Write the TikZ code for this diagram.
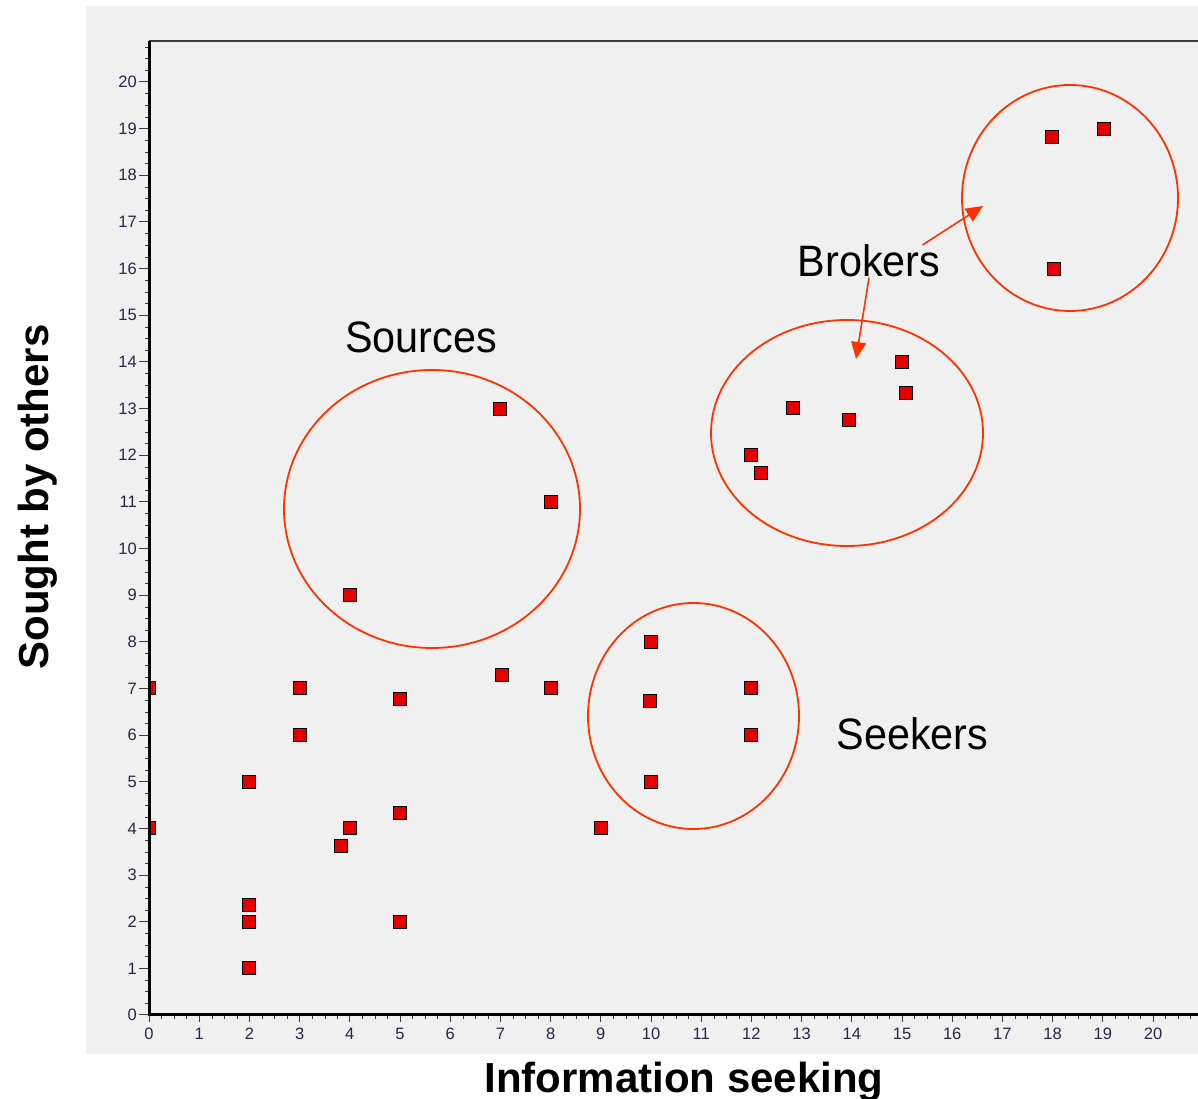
\documentclass[tikz,border=0pt]{standalone}
\usepackage{fontspec}
\setmainfont{Liberation Sans}
\newfontfamily\grpfont[FakeStretch=0.94]{Liberation Sans}
\usetikzlibrary{arrows.meta}
\definecolor{plotbg}{RGB}{240,240,240}
\definecolor{ringred}{RGB}{255,51,0}
\definecolor{markred}{RGB}{228,0,0}
\definecolor{ticknum}{RGB}{40,40,70}
\definecolor{frameline}{RGB}{60,60,60}
\tikzset{
  ticklab/.style={inner sep=0pt, text=ticknum, font=\fontsize{16.5}{18}\selectfont},
  axlab/.style={inner sep=0pt, font=\fontsize{42}{46}\selectfont\bfseries},
  grplab/.style={inner sep=0pt, font=\grpfont\fontsize{44}{48}\selectfont},
  ringline/.style={ringred, line width=1.8pt},
  brkarrow/.style={ringred, line width=1.6pt, -{Triangle[length=17pt,width=15pt]}}
}
\newcommand{\pnt}[2]{ \filldraw[fill=markred, draw=black, line width=1pt] (#1,#2) ++(-6.5pt,-6.5pt) rectangle ++(13pt,13pt);}
\newcommand{\ring}[4]{ \draw[ringline] (#1pt,#2pt) ellipse [x radius=#3pt, y radius=#4pt];}
\newcommand{\xtick}[1]{ \draw[frameline, line width=1pt] (#1,0) -- ++(0pt,-7pt); \draw[frameline] (#1+0.25,0) -- ++(0pt,-4pt); \draw[frameline] (#1+0.5,0) -- ++(0pt,-4pt); \draw[frameline] (#1+0.75,0) -- ++(0pt,-4pt); \node[ticklab, anchor=north, yshift=-13pt] (xl#1) at (#1,0) {#1};}
\newcommand{\ytick}[1]{ \draw[frameline, line width=1pt] (0,#1) -- ++(-10pt,0pt); \draw[frameline] (0,#1+0.25) -- ++(-4pt,0pt); \draw[frameline] (0,#1+0.5) -- ++(-4pt,0pt); \draw[frameline] (0,#1+0.75) -- ++(-4pt,0pt); \node[ticklab, anchor=east, xshift=-12pt] (yl#1) at (0,#1) {#1};}

\begin{document}
\begin{tikzpicture}[x=50.2pt, y=46.65pt]
        \useasboundingbox (-149pt,-84pt) rectangle (1049pt,1015pt);
        \fill[plotbg] (-63pt,-39pt) rectangle (1049pt,1009pt);
        % ticks x
        \xtick{0} \xtick{1} \xtick{2} \xtick{3} \xtick{4} \xtick{5} \xtick{6}
        \xtick{7} \xtick{8} \xtick{9} \xtick{10} \xtick{11} \xtick{12} \xtick{13}
        \xtick{14} \xtick{15} \xtick{16} \xtick{17} \xtick{18} \xtick{19} \xtick{20}
        % ticks y
        \ytick{0} \ytick{1} \ytick{2} \ytick{3} \ytick{4} \ytick{5} \ytick{6}
        \ytick{7} \ytick{8} \ytick{9} \ytick{10} \ytick{11} \ytick{12} \ytick{13}
        \ytick{14} \ytick{15} \ytick{16} \ytick{17} \ytick{18} \ytick{19} \ytick{20}
        % points
        \begin{scope}
        \clip (0pt,-20pt) rectangle (1049pt,1009pt);
        \pnt{0}{7}
        \pnt{0}{4}
        \pnt{2}{5}
        \pnt{2}{2.35}
        \pnt{2}{2}
        \pnt{2}{1}
        \pnt{3}{7}
        \pnt{3}{6}
        \pnt{3.82}{3.62}
        \pnt{4}{4}
        \pnt{4}{9}
        \pnt{5}{6.77}
        \pnt{5}{4.33}
        \pnt{5}{2}
        \pnt{7}{13}
        \pnt{7.03}{7.29}
        \pnt{8}{11}
        \pnt{8}{7}
        \pnt{9}{4}
        \pnt{10}{8}
        \pnt{9.98}{6.73}
        \pnt{10}{5}
        \pnt{12}{7}
        \pnt{12}{6}
        \pnt{12}{12}
        \pnt{12.19}{11.62}
        \pnt{12.83}{13.01}
        \pnt{13.94}{12.75}
        \pnt{15}{14}
        \pnt{15.08}{13.33}
        \pnt{17.99}{18.82}
        \pnt{19.02}{18.99}
        \pnt{18.03}{15.99}
        \end{scope}
        % frame
        \draw[frameline, line width=1.5pt] (0pt,974pt) -- (1049pt,974pt);
        \draw[line width=3pt] (0pt,974pt) -- (0pt,0pt) -- (1049pt,0pt);
        % groups
        \ring{283}{506}{148}{139}
        \ring{698}{582}{136}{113}
        \ring{921}{817}{108}{113}
        \ring{544.5}{299}{105.5}{113}
        \node[grplab, anchor=base] (src) at (272pt,662pt) {Sources};
        \node[grplab, anchor=base] (brk) at (720pt,738pt) {Brokers};
        \node[grplab, anchor=base] (skr) at (763.5pt,265pt) {Seekers};
        \coordinate (tipA) at (707pt,656pt);
        \coordinate (tipB) at (834pt,809pt);
        \draw[brkarrow] (brk.south) -- (tipA);
        \draw[brkarrow] (brk.17) -- (tipB);
        % axis labels
        \node[axlab, anchor=base] (xlab) at (535pt,-77pt) {Information seeking};
        \node[axlab, anchor=base, rotate=90] (ylab) at (-100pt,518pt) {Sought by others};
\end{tikzpicture}
\end{document}
